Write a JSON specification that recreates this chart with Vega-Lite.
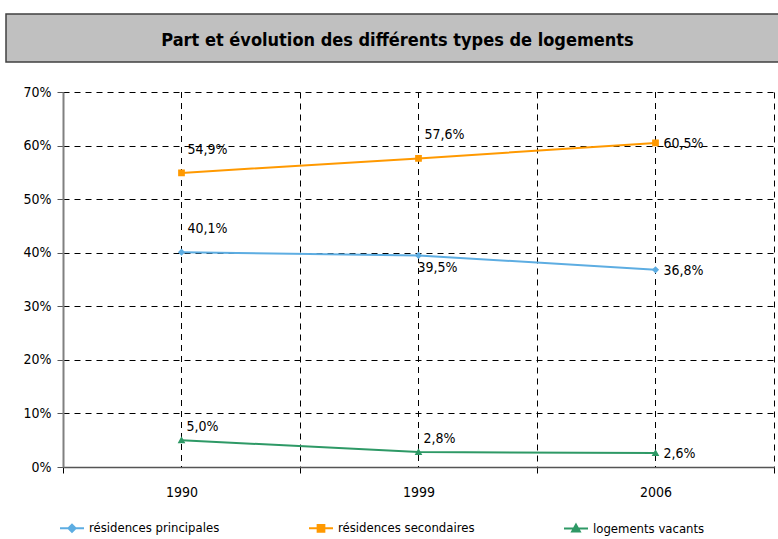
{
  "$schema": "https://vega.github.io/schema/vega-lite/v6.json",
  "padding": {"left": 5, "top": 13, "right": 0, "bottom": 0},
  "spacing": 22,
  "config": {
    "font": "DejaVu Sans Condensed, Liberation Sans Narrow, sans-serif",
    "locale": {"number": {"decimal": ",", "thousands": " ", "grouping": [3], "currency": ["", " €"]}},
    "axis": {"labelFontSize": 14, "labelColor": "#000000", "labelFont": "DejaVu Sans Condensed, Liberation Sans Narrow, sans-serif"},
    "legend": {"labelFontSize": 13, "labelColor": "#000000", "labelFont": "DejaVu Sans Condensed, Liberation Sans Narrow, sans-serif"}
  },
  "datasets": {
    "logements": [
      {"year": "1990", "series": "résidences principales", "value": 0.401},
      {"year": "1999", "series": "résidences principales", "value": 0.395},
      {"year": "2006", "series": "résidences principales", "value": 0.368},
      {"year": "1990", "series": "résidences secondaires", "value": 0.549},
      {"year": "1999", "series": "résidences secondaires", "value": 0.576},
      {"year": "2006", "series": "résidences secondaires", "value": 0.605},
      {"year": "1990", "series": "logements vacants", "value": 0.05},
      {"year": "1999", "series": "logements vacants", "value": 0.028},
      {"year": "2006", "series": "logements vacants", "value": 0.026}
    ]
  },
  "vconcat": [
    {
      "width": 773,
      "height": 48,
      "view": {"fill": "#c0c0c0", "stroke": "#404040", "strokeWidth": 1.5},
      "data": {"values": [{"t": "Part et évolution des différents types de logements"}]},
      "mark": {"type": "text", "fontSize": 18, "fontWeight": "bold", "color": "#000000", "baseline": "middle", "align": "center", "dx": 5, "dy": 3, "font": "DejaVu Sans Condensed, Liberation Sans Narrow, sans-serif"},
      "encoding": {"text": {"field": "t", "type": "nominal"}}
    },
    {
      "width": 768,
      "height": 375,
      "view": {"stroke": null},
      "data": {"name": "logements"},
      "encoding": {
        "x": {
          "field": "year", "type": "ordinal",
          "scale": {"type": "band", "paddingInner": 0, "paddingOuter": 0, "range": [57, 768]},
          "axis": {
            "title": null, "labelAngle": 0, "tickBand": "extent",
            "grid": true, "gridDash": [6, 5], "gridColor": "#000000", "gridOpacity": 1, "gridWidth": 1,
            "domainColor": "#555555", "domainWidth": 1.5,
            "tickColor": "#000000", "tickSize": 6, "labelPadding": 12
          }
        },
        "y": {
          "field": "value", "type": "quantitative",
          "scale": {"domain": [0, 0.7], "nice": false},
          "axis": {
            "title": null, "values": [0, 0.1, 0.2, 0.3, 0.4, 0.5, 0.6, 0.7], "format": ".0%",
            "offset": -57,
            "grid": true, "gridDash": [6, 5], "gridColor": "#000000", "gridOpacity": 1, "gridWidth": 1,
            "domainColor": "#808080", "domainWidth": 2,
            "tickColor": "#555555", "tickSize": 6, "labelPadding": 6
          }
        }
      },
      "layer": [
        {
          "transform": [{"aggregate": [], "groupby": ["year"]}],
          "mark": {"type": "rule", "strokeDash": [6, 5], "color": "#000000", "strokeWidth": 1},
          "encoding": {"y": null}
        },
        {
          "mark": {"type": "line", "strokeWidth": 2},
          "encoding": {
            "color": {
              "field": "series", "type": "nominal",
              "scale": {"domain": ["résidences principales", "résidences secondaires", "logements vacants"], "range": ["#5DADE2", "#FF9900", "#2E9966"]},
              "legend": {
                "title": null, "orient": "none", "legendX": 53, "legendY": 501, "direction": "horizontal",
                "columnPadding": 85, "symbolSize": 576, "labelOffset": 4,
                "encode": {
                  "symbols": {
                    "update": {
                      "fill": {"signal": "scale('color', datum.value)"},
                      "stroke": {"signal": "scale('color', datum.value)"},
                      "strokeWidth": {"value": 2},
                      "opacity": {"value": 1}
                    }
                  }
                }
              }
            }
          }
        },
        {
          "mark": {"type": "point", "filled": true, "size": 576, "opacity": 1},
          "encoding": {
            "color": {"field": "series", "type": "nominal"},
            "shape": {
              "field": "series", "type": "nominal",
              "scale": {"domain": ["résidences principales", "résidences secondaires", "logements vacants"], "range": ["M-1,0H1M0,-0.3L0.3,0L0,0.3L-0.3,0Z", "M-1,0H1M-0.28,-0.28H0.28V0.28H-0.28Z", "M-1,0H1M0,-0.32L0.32,0.25H-0.32Z"]}
            }
          }
        },
        {
          "transform": [{"filter": "datum.year === '2006'"}],
          "mark": {"type": "text", "align": "left", "baseline": "middle", "dx": 8, "dy": 1, "fontSize": 14, "color": "#000000"},
          "encoding": {"text": {"field": "value", "type": "quantitative", "format": ".1%"}}
        },
        {
          "transform": [{"filter": "datum.year === '1999' && datum.series === 'résidences principales'"}],
          "mark": {"type": "text", "align": "left", "baseline": "middle", "dx": -1, "dy": 13, "fontSize": 14, "color": "#000000"},
          "encoding": {"text": {"field": "value", "type": "quantitative", "format": ".1%"}}
        },
        {
          "transform": [{"filter": "datum.year !== '2006' && datum.series !== 'logements vacants' && !(datum.year === '1999' && datum.series === 'résidences principales')"}],
          "mark": {"type": "text", "align": "left", "baseline": "middle", "dx": 6, "dy": -23, "fontSize": 14, "color": "#000000"},
          "encoding": {"text": {"field": "value", "type": "quantitative", "format": ".1%"}}
        },
        {
          "transform": [{"filter": "datum.year !== '2006' && datum.series === 'logements vacants'"}],
          "mark": {"type": "text", "align": "left", "baseline": "middle", "dx": 5, "dy": -13, "fontSize": 14, "color": "#000000"},
          "encoding": {"text": {"field": "value", "type": "quantitative", "format": ".1%"}}
        }
      ]
    }
  ]
}
